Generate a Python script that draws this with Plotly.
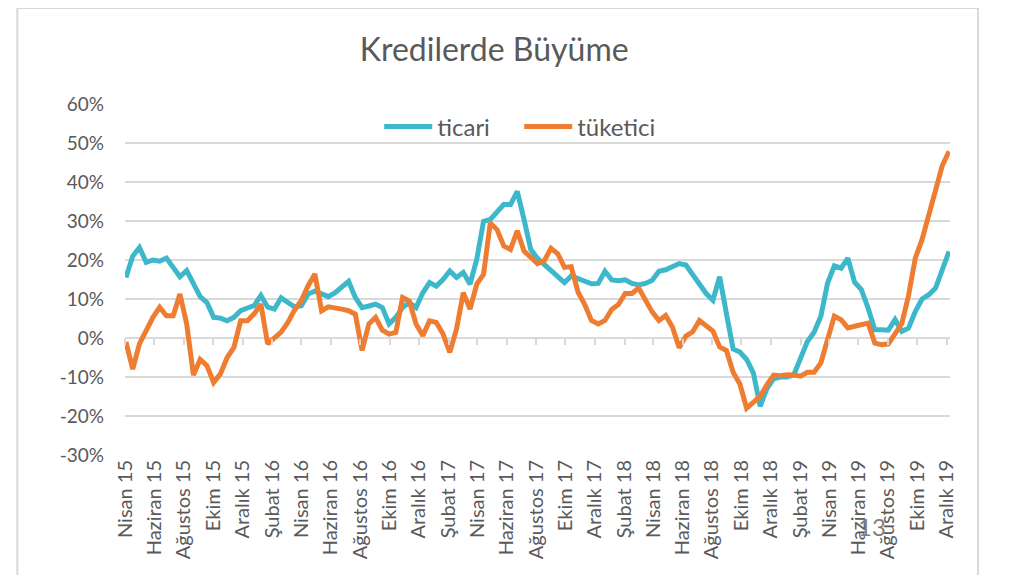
import pandas as pd
import plotly.graph_objects as go

# ---------------- data ----------------
start_date = "2015-04-03"
ticari = [
    15.5, 21.0, 23.2, 19.4, 20.0, 19.7, 20.5, 18.1, 15.7, 17.3,
    13.8, 10.6, 9.1, 5.3, 5.1, 4.4, 5.3, 7.0, 7.7, 8.3,
    10.9, 7.9, 7.4, 10.3, 9.1, 8.0, 8.3, 11.3, 12.0, 11.3,
    10.6, 11.6, 12.9, 14.5, 10.4, 7.8, 8.2, 8.7, 7.8, 3.6,
    5.3, 7.8, 9.1, 7.8, 11.6, 14.2, 13.3, 15.0, 17.2, 15.5,
    16.8, 13.8, 20.2, 29.9, 30.4, 32.5, 34.2, 34.2, 37.6, 30.4,
    22.7, 20.4, 18.9, 17.6, 15.9, 14.2, 15.9, 15.3, 14.5, 13.9,
    14.0, 17.1, 14.9, 14.7, 14.9, 14.0, 13.6, 14.0, 14.8, 17.1,
    17.5, 18.3, 19.1, 18.7, 16.1, 13.5, 11.4, 9.7, 15.7, 6.3,
    -2.8, -3.6, -5.5, -9.0, -17.5, -13.0, -10.5, -10.0, -10.0, -9.4,
    -4.7, -0.9, 1.5, 5.6, 14.1, 18.5, 17.9, 20.5, 14.3, 12.4,
    7.7, 2.1, 2.1, 2.0, 4.7, 1.7, 2.6, 6.8, 10.0, 11.1,
    12.8, 17.9, 22.2,
]
tuketici = [
    -1.0, -8.0, -1.5, 2.0, 5.3, 7.9, 5.7, 5.7, 11.3, 3.6,
    -9.5, -5.5, -7.1, -11.4, -9.2, -5.0, -2.4, 4.4, 4.4, 6.2,
    8.7, -1.5, 0.2, 1.5, 4.0, 7.2, 9.6, 13.4, 16.4, 7.0,
    8.0, 7.8, 7.4, 7.0, 6.1, -3.2, 3.6, 5.3, 2.0, 1.0,
    1.4, 10.4, 9.5, 3.6, 0.6, 4.4, 4.0, 1.0, -3.7, 2.3,
    11.6, 7.4, 13.8, 16.3, 29.5, 27.8, 23.6, 22.7, 27.5, 22.3,
    20.7, 19.1, 19.8, 23.0, 21.6, 18.1, 18.3, 11.8, 8.6, 4.5,
    3.6, 4.5, 7.3, 8.6, 11.4, 11.4, 12.8, 9.7, 6.7, 4.5,
    5.8, 2.8, -2.5, 0.5, 1.6, 4.5, 3.2, 1.8, -2.3, -3.2,
    -8.8, -11.8, -18.0, -16.5, -15.0, -12.0, -9.5, -9.7, -9.4, -9.5,
    -9.8, -8.8, -8.8, -6.4, -0.4, 5.6, 4.7, 2.6, 3.0, 3.4,
    3.8, -1.3, -1.7, -1.5, 0.9, 3.7, 10.9, 20.5, 25.2, 31.6,
    37.6, 44.2, 47.9,
]
dates = pd.date_range(start_date, periods=len(ticari), freq="14D")

tick_dates = [
    "2015-04-01", "2015-06-01", "2015-08-01", "2015-10-01", "2015-12-01",
    "2016-02-01", "2016-04-01", "2016-06-01", "2016-08-01", "2016-10-01", "2016-12-01",
    "2017-02-01", "2017-04-01", "2017-06-01", "2017-08-01", "2017-10-01", "2017-12-01",
    "2018-02-01", "2018-04-01", "2018-06-01", "2018-08-01", "2018-10-01", "2018-12-01",
    "2019-02-01", "2019-04-01", "2019-06-01", "2019-08-01", "2019-10-01", "2019-12-01",
]
tick_labels = [
    "Nisan 15", "Haziran 15", "Ağustos 15", "Ekim 15", "Aralık 15",
    "Şubat 16", "Nisan 16", "Haziran 16", "Ağustos 16", "Ekim 16", "Aralık 16",
    "Şubat 17", "Nisan 17", "Haziran 17", "Ağustos 17", "Ekim 17", "Aralık 17",
    "Şubat 18", "Nisan 18", "Haziran 18", "Ağustos 18", "Ekim 18", "Aralık 18",
    "Şubat 19", "Nisan 19", "Haziran 19", "Ağustos 19", "Ekim 19", "Aralık 19",
]
y_ticks = [-30, -20, -10, 0, 10, 20, 30, 40, 50, 60]
y_labels = ["-30%", "-20%", "-10%", "0%", "10%", "20%", "30%", "40%", "50%", "60%"]

# ---------------- styling ----------------
OFF = 8                      # page body margin of the browser
W, H = 1018 - OFF, 575 - OFF
# plot area in screen pixels
L, R, T, B = 124.7, 950, 104, 455
TEXT = "#595959"
GRID = "#D9D9D9"
FONT = "Lato"

def px_x(p):
    return (p - L) / (R - L)

def px_y(p):
    return (B - p) / (B - T)

fig = go.Figure()
fig.add_trace(go.Scatter(x=dates, y=ticari, name="ticari", mode="lines",
                         line=dict(color="#3DB7CA", width=5)))
fig.add_trace(go.Scatter(x=dates, y=tuketici, name="tüketici", mode="lines",
                         line=dict(color="#EE7D31", width=5)))
# invisible trace so the tick-mark axis at 0% is rendered
fig.add_trace(go.Scatter(x=[dates[0]], y=[None], xaxis="x2", showlegend=False,
                         hoverinfo="skip", mode="lines"))

fig.update_layout(
    width=W, height=H,
    margin=dict(l=L - OFF, r=1018 - R, t=T - OFF, b=575 - B),
    paper_bgcolor="white", plot_bgcolor="white",
    font=dict(family=FONT, color=TEXT),
    title=dict(text="Kredilerde Büyüme", x=px_x(494), xanchor="center",
               xref="paper", y=1 - (50 - OFF) / H, yanchor="middle",
               font=dict(family=FONT, size=32, color=TEXT)),
    legend=dict(orientation="h", x=px_x(379), xanchor="left",
                y=px_y(127), yanchor="middle", bgcolor="rgba(0,0,0,0)",
                font=dict(size=24, color=TEXT), itemwidth=48,
                entrywidth=77, entrywidthmode="pixels"),
    xaxis=dict(range=["2015-04-01", "2019-12-08"], tickvals=tick_dates,
               ticktext=tick_labels, tickangle=-90, showgrid=False,
               ticks="", showline=False, zeroline=False, automargin=False,
               tickfont=dict(size=20, color=TEXT)),
    xaxis2=dict(overlaying="x", matches="x", anchor="free", position=1 / 3,
                tickvals=tick_dates, ticks="outside", ticklen=6, tickwidth=2,
                tickcolor=GRID, showticklabels=False, showgrid=False,
                showline=False, zeroline=False, automargin=False),
    yaxis=dict(range=[-30, 60], tickvals=y_ticks, ticktext=y_labels,
               showgrid=True, gridcolor=GRID, gridwidth=2, zeroline=False,
               showline=False, ticks="", ticklabelstandoff=20, automargin=False,
               tickfont=dict(size=19, color=TEXT)),
    showlegend=True,
)

# outer frame of the chart object
fig.add_shape(type="rect", xref="paper", yref="paper",
              x0=px_x(17), x1=px_x(978), y0=px_y(8), y1=px_y(640),
              line=dict(color="#D9D9D9", width=2), fillcolor="rgba(0,0,0,0)",
              layer="below")
# page number overlay
fig.add_annotation(text="13", xref="paper", yref="paper", x=px_x(888),
                   y=px_y(543), showarrow=False,
                   font=dict(family=FONT, size=24, color="#7F7F7F"))

fig.write_html("out.html")
